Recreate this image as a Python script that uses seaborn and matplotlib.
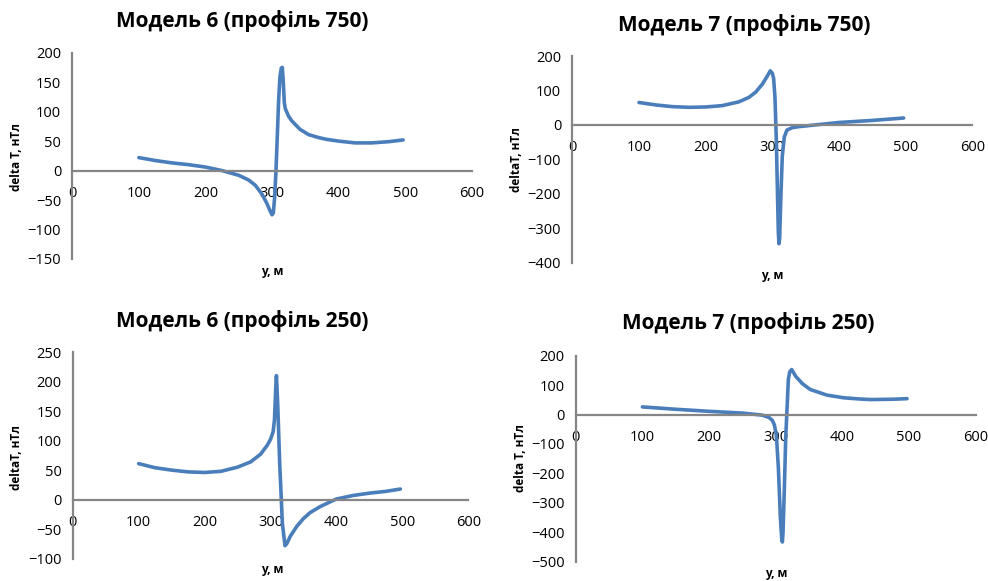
import matplotlib
matplotlib.use("Agg")
import matplotlib.pyplot as plt
import seaborn as sns

# --- data ---
m6_750_x = [100, 125, 150, 175, 200, 225, 250, 265, 275, 285, 292, 297, 300, 302, 304,
            306, 308, 310, 312, 314, 315.5, 317, 318.5, 320, 325, 330, 342, 355, 370,
            382, 400, 425, 450, 475, 497]
m6_750_y = [22, 17, 13, 10, 6, 0, -8, -16, -25, -40, -55, -68, -75, -72, -45,
            0, 60, 120, 160, 174, 175, 150, 115, 105, 92, 84, 70, 61, 56,
            53, 50, 47, 47, 49, 52]

m7_750_x = [100, 125, 150, 175, 200, 225, 250, 265, 275, 285, 292, 297, 300, 302, 304,
            306, 308, 309, 310, 311, 313, 315, 318, 322, 330, 340, 360, 380, 400,
            450, 497]
m7_750_y = [65, 58, 53, 51, 52, 56, 67, 80, 95, 118, 140, 157, 150, 135, 80,
            -40, -220, -310, -345, -330, -200, -90, -35, -15, -8, -5, -1, 3, 7,
            13, 20]

m6_250_x = [100, 125, 150, 175, 200, 225, 250, 270, 285, 295, 300, 304, 306, 308, 309,
            311, 314, 318, 322, 325, 330, 340, 350, 360, 375, 390, 400, 425, 450,
            475, 497]
m6_250_y = [61, 54, 50, 47, 46, 48, 55, 64, 77, 92, 102, 115, 135, 190, 210,
            160, 60, -40, -78, -74, -62, -45, -32, -22, -12, -4, 1, 7, 11,
            14, 18]

m7_250_x = [100, 150, 200, 250, 280, 290, 295, 298, 301, 304, 307, 309, 310, 311, 313,
            315, 317, 319, 321, 324, 330, 340, 352, 377, 402, 425, 442, 475, 497]
m7_250_y = [26, 18, 11, 5, -2, -10, -20, -35, -70, -180, -350, -420, -433, -400, -250,
            -80, 20, 120, 145, 153, 130, 105, 85, 66, 57, 53, 51, 52, 54]

titles = ["Модель 6 (профіль 750)", "Модель 7 (профіль 750)",
          "Модель 6 (профіль 250)", "Модель 7 (профіль 250)"]
ylabels = ["delta T, нТл", "deltaT, нТл", "deltaT, нТл", "delta T, нТл"]
xlabel = "y, м"
x_ticks = [0, 100, 200, 300, 400, 500, 600]
y_ticks = [list(range(-150, 201, 50)), list(range(-400, 201, 100)),
           list(range(-100, 251, 50)), list(range(-500, 201, 100))]

sns.set_theme(style="white")
plt.rcParams["font.family"] = ["Open Sans", "DejaVu Sans"]
plt.rcParams["text.color"] = "black"

W, H = 988, 581
fig = plt.figure(figsize=(W / 100, H / 100), dpi=100)

# axes boxes in pixels: left, top, right, bottom
boxes = [(72.3, 52.7, 471.7, 259.0), (572.3, 56.0, 972.3, 262.7),
         (72.7, 352.0, 468.3, 558.7), (575.7, 355.7, 975.7, 561.7)]
title_pos = [(242, 21), (744, 25), (242, 321), (748, 323)]
ylab_pos = [(16, 157), (516, 160), (17, 457), (520, 458)]
xlab_pos = [(272, 272), (772, 276), (272, 570), (776, 574)]

series = [(m6_750_x, m6_750_y), (m7_750_x, m7_750_y),
          (m6_250_x, m6_250_y), (m7_250_x, m7_250_y)]

line_color = "#4a7ebb"
axis_color = "#868686"

for i, (xs, ys) in enumerate(series):
    l, t, r, b = boxes[i]
    ax = fig.add_axes([l / W, 1 - b / H, (r - l) / W, (b - t) / H])
    sns.lineplot(x=xs, y=ys, ax=ax, color=line_color, linewidth=2.6)
    ax.set_xlim(0, 600)
    ax.set_ylim(y_ticks[i][0], y_ticks[i][-1])
    ax.set_xticks(x_ticks)
    ax.set_yticks(y_ticks[i])
    for s in ["top", "right"]:
        ax.spines[s].set_visible(False)
    ax.spines["bottom"].set_position(("data", 0))
    for s in ["left", "bottom"]:
        ax.spines[s].set_color(axis_color)
        ax.spines[s].set_linewidth(1.6)
    ax.tick_params(axis="x", length=0, pad=11, labelsize=10.5, colors="black")
    ax.tick_params(axis="y", length=0, pad=8, labelsize=10.5, colors="black")
    ax.set_xlabel("")
    ax.set_ylabel("")
    ax.patch.set_alpha(0)

    tx, ty = title_pos[i]
    fig.text(tx / W, 1 - ty / H, titles[i], ha="center", va="center",
             fontsize=15, fontweight="bold", color="black")
    yx, yy = ylab_pos[i]
    fig.text(yx / W, 1 - yy / H, ylabels[i], ha="center", va="center",
             rotation=90, fontsize=8.5, fontweight="bold", color="black")
    xx, xy = xlab_pos[i]
    fig.text(xx / W, 1 - xy / H, xlabel, ha="center", va="center",
             fontsize=8.5, fontweight="bold", color="black")

fig.savefig("out.png", dpi=100, facecolor="white")
